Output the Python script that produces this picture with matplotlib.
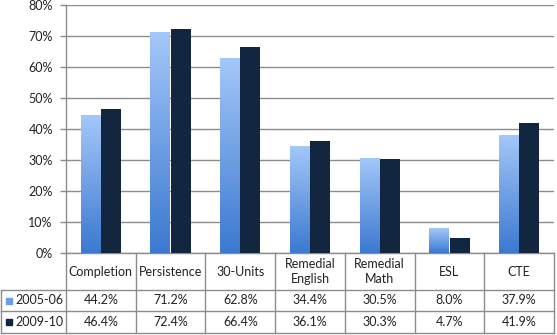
import matplotlib.pyplot as plt
import matplotlib.colors as mcolors
import numpy as np
from matplotlib.lines import Line2D

categories = ['Completion', 'Persistence', '30-Units', 'Remedial\nEnglish',
              'Remedial\nMath', 'ESL', 'CTE']
series_names = ['2005-06', '2009-10']
vals_0506 = [44.2, 71.2, 62.8, 34.4, 30.5, 8.0, 37.9]
vals_0910 = [46.4, 72.4, 66.4, 36.1, 30.3, 4.7, 41.9]
yticks = [0, 10, 20, 30, 40, 50, 60, 70, 80]

W, H = 557, 335
GRID = '#8c8c8c'
DARK = '#12263f'
LIGHT_TOP = '#a3c7f8'
LIGHT_BOT = '#3c79d0'
TXT = '#222222'
FS = 9

plt.rcParams['font.family'] = ['Lato', 'DejaVu Sans']

fig = plt.figure(figsize=(W / 100, H / 100), dpi=100)

# plot area in pixel coords (y from top)
x0, x1 = 66, 554
y_top, y_bot = 5, 253
ax = fig.add_axes([x0 / W, (H - y_bot) / H, (x1 - x0) / W, (y_bot - y_top) / H])

n = len(categories)
x = np.arange(n)
bw = 0.286
off = 0.146

grad = mcolors.LinearSegmentedColormap.from_list('g', [LIGHT_BOT, LIGHT_TOP])
for xi, v in zip(x, vals_0506):
    left = xi - off - bw / 2
    g = np.linspace(0, 1, 100).reshape(-1, 1)
    ax.imshow(g, cmap=grad, origin='lower', aspect='auto',
              extent=[left, left + bw, 0, v], zorder=3)
ax.bar(x + off, vals_0910, width=bw, color=DARK, zorder=3)

ax.set_xlim(-0.5, n - 0.5)
ax.set_ylim(0, 80)
ax.set_yticks(yticks)
ax.set_yticklabels([f'{t}%' for t in yticks], color=TXT)
ax.set_xticks([])
ax.yaxis.grid(True, color=GRID, linewidth=1.0, zorder=0)
ax.tick_params(axis='y', length=4.5, width=1.0, color=GRID, pad=5, labelsize=FS)
for s in ['top', 'right']:
    ax.spines[s].set_visible(False)
for s in ['left', 'bottom']:
    ax.spines[s].set_color(GRID)
    ax.spines[s].set_linewidth(1.0)


def fx(px):
    return px / W


def fy(py):
    return (H - py) / H


def hline(xa, xb, y):
    fig.add_artist(Line2D([fx(xa), fx(xb)], [fy(y), fy(y)], color=GRID, lw=1.0))


def vline(xp, ya, yb):
    fig.add_artist(Line2D([fx(xp), fx(xp)], [fy(ya), fy(yb)], color=GRID, lw=1.0))


# data table under the chart
col_w = (x1 - x0) / n
r0, r1, r2, r3 = y_bot, 290, 311, 333
for k in range(n + 1):
    vline(x0 + k * col_w, r0, r3)
vline(1, r1, r3)
for y in [r1, r2, r3]:
    hline(1, x1, y)

for k, cat in enumerate(categories):
    cx = x0 + (k + 0.5) * col_w
    fig.text(fx(cx), fy((r0 + r1) / 2), cat, ha='center', va='center',
             fontsize=FS, color=TXT, linespacing=1.3)
    fig.text(fx(cx), fy((r1 + r2) / 2), f'{vals_0506[k]:.1f}%', ha='center',
             va='center', fontsize=FS, color=TXT)
    fig.text(fx(cx), fy((r2 + r3) / 2), f'{vals_0910[k]:.1f}%', ha='center',
             va='center', fontsize=FS, color=TXT)

for name, (ya, yb), col in zip(series_names, [(r1, r2), (r2, r3)], ['#6a9fe6', DARK]):
    yc = (ya + yb) / 2
    fig.patches.append(plt.Rectangle((fx(6), fy(yc + 3)), 6 / W, 6 / H,
                                     color=col, transform=fig.transFigure, figure=fig))
    fig.text(fx(15), fy(yc), name, ha='left', va='center', fontsize=FS, color=TXT)

fig.savefig('out.png', dpi=100)
